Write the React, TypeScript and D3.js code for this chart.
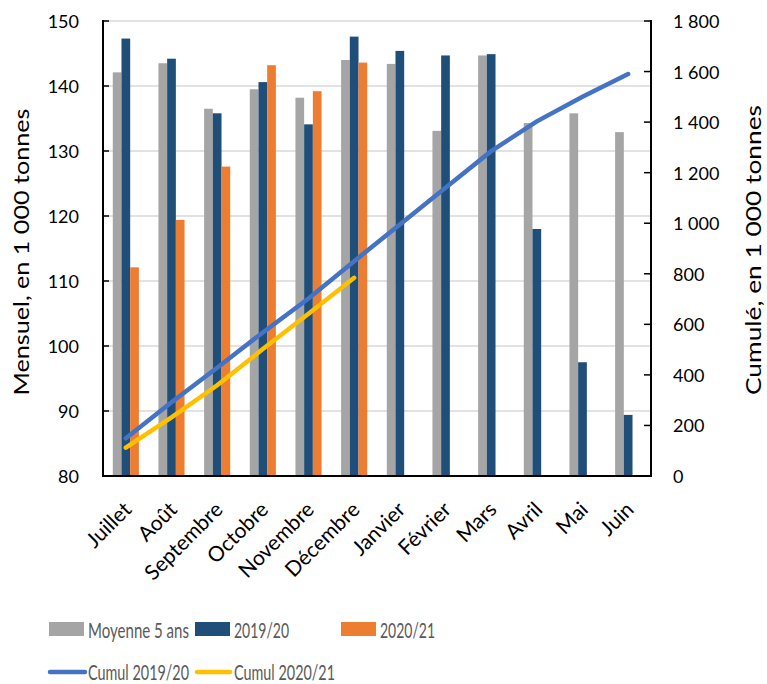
import React from "react";
import * as d3 from "d3";

const months = ["Juillet","Août","Septembre","Octobre","Novembre","Décembre","Janvier","Février","Mars","Avril","Mai","Juin"];
const moyenne5 = [142.1,143.5,136.5,139.5,138.2,144.0,143.4,133.1,144.7,134.3,135.8,132.9];
const s2019 = [147.3,144.2,135.8,140.6,134.1,147.6,145.4,144.7,144.9,118.0,97.5,89.4];
const s2020 = [112.1,119.4,127.6,143.2,139.2,143.6];
const cumul2019 = [149,292,428,568,702,850,995,1140,1285,1403,1500,1590];
const cumul2020 = [112,232,359,502,642,784];
const leftTicks = [80,90,100,110,120,130,140,150];
const rightTicks = [0,200,400,600,800,1000,1200,1400,1600,1800];

const FONT = "Lato, 'Open Sans', sans-serif";
const C_GRAY = "#A5A5A5", C_NAVY = "#1F4E79", C_ORANGE = "#ED7D31", C_BLUE = "#4472C4", C_YELLOW = "#FFC000";

export default function App() {
  const W = 767, H = 684;
  const L = 103, R = 651, T = 21, B = 476;
  const x = d3.scaleBand<string>().domain(months).range([L, R]).paddingInner(0).paddingOuter(0);
  const yL = d3.scaleLinear().domain([80, 150]).range([B, T]);
  const yR = d3.scaleLinear().domain([0, 1800]).range([B, T]);
  const bw = 8.7;
  const cx = (m: string) => (x(m) as number) + x.bandwidth() / 2;
  const fmt = (v: number) => (v >= 1000 ? d3.format(",")(v).replace(",", " ") : String(v));
  const line = d3.line<number>().x((_, i) => cx(months[i])).y((v) => yR(v));
  const series = [
    { data: moyenne5, color: C_GRAY, off: -1 },
    { data: s2019, color: C_NAVY, off: 0 },
    { data: s2020, color: C_ORANGE, off: 1 },
  ];
  const legendText = (tx: number, ty: number, s: string, len: number) => (
    <text x={tx} y={ty} dominantBaseline="central" fontSize={21} fill="#595959" textLength={len} lengthAdjust="spacingAndGlyphs">{s}</text>
  );
  return (
    <svg width={W} height={H} style={{ display: "block", position: "absolute", left: 0, top: 0 }} fontFamily={FONT}>
      <rect width={W} height={H} fill="#fff" />
      {leftTicks.slice(1).map((t) => (
        <line key={t} x1={L} x2={R} y1={yL(t)} y2={yL(t)} stroke="#D9D9D9" strokeWidth={1.5} />
      ))}
      {series.map((s, si) =>
        s.data.map((v, i) => (
          <rect key={si + "-" + i} x={cx(months[i]) + s.off * bw - bw / 2} y={yL(v)} width={bw} height={B - yL(v)} fill={s.color} />
        ))
      )}
      <path d={line(cumul2019) || ""} fill="none" stroke={C_BLUE} strokeWidth={4.5} strokeLinecap="round" />
      <path d={line(cumul2020) || ""} fill="none" stroke={C_YELLOW} strokeWidth={4.5} strokeLinecap="round" />
      <line x1={L} x2={L} y1={T - 1} y2={B + 1} stroke="#000" strokeWidth={2} />
      <line x1={R} x2={R} y1={T - 1} y2={B + 1} stroke="#000" strokeWidth={2} />
      <line x1={L} x2={R} y1={B} y2={B} stroke="#000" strokeWidth={2} />
      {leftTicks.map((t) => (
        <g key={"l" + t}>
          <line x1={L} x2={L + 6} y1={yL(t)} y2={yL(t)} stroke="#000" strokeWidth={1.5} />
          <text x={79} y={yL(t)} textAnchor="end" dominantBaseline="central" fontSize={18} fill="#000">{t}</text>
        </g>
      ))}
      {rightTicks.map((t) => (
        <g key={"r" + t}>
          <line x1={R - 7} x2={R} y1={yR(t)} y2={yR(t)} stroke="#000" strokeWidth={1.5} />
          <text x={673} y={yR(t)} textAnchor="start" dominantBaseline="central" fontSize={18} fill="#000">{fmt(t)}</text>
        </g>
      ))}
      {months.map((m) => (
        <text key={m} transform={`translate(${cx(m) - 5},${B + 23}) rotate(-45)`} textAnchor="end" dominantBaseline="hanging" fontSize={21} fill="#000">{m}</text>
      ))}
      <text transform={`translate(29,252) rotate(-90)`} textAnchor="middle" fontSize={21} fill="#000" textLength={287} lengthAdjust="spacingAndGlyphs">Mensuel, en 1 000 tonnes</text>
      <text transform={`translate(761,250) rotate(-90)`} textAnchor="middle" fontSize={21} fill="#000" textLength={290} lengthAdjust="spacingAndGlyphs">Cumulé, en 1 000 tonnes</text>
      <rect x={49} y={622} width={35} height={14} fill={C_GRAY} />
      {legendText(88, 629, "Moyenne 5 ans", 101)}
      <rect x={195} y={622} width={35} height={14} fill={C_NAVY} />
      {legendText(234, 629, "2019/20", 55)}
      <rect x={341} y={622} width={35} height={14} fill={C_ORANGE} />
      {legendText(380, 629, "2020/21", 55)}
      <line x1={50} x2={85} y1={672} y2={672} stroke={C_BLUE} strokeWidth={4.5} strokeLinecap="round" />
      {legendText(88, 671, "Cumul 2019/20", 101)}
      <line x1={197} x2={230} y1={672} y2={672} stroke={C_YELLOW} strokeWidth={4.5} strokeLinecap="round" />
      {legendText(234, 671, "Cumul 2020/21", 101)}
    </svg>
  );
}
